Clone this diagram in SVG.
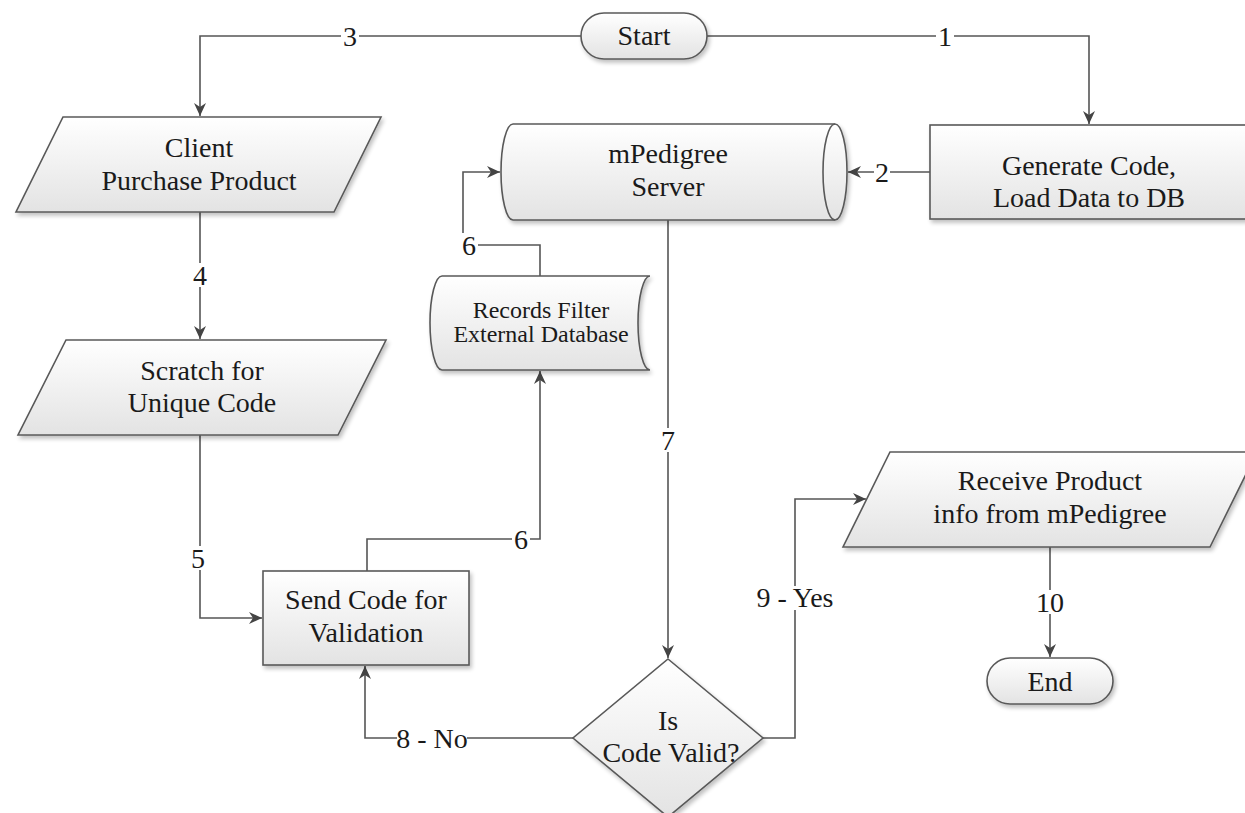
<svg xmlns="http://www.w3.org/2000/svg" width="1245" height="813" viewBox="0 0 1245 813">
<defs>
<linearGradient id="g" x1="0" y1="0" x2="0" y2="1">
<stop offset="0" stop-color="#ffffff"/>
<stop offset="1" stop-color="#e3e3e3"/>
</linearGradient>
<filter id="sh" x="-10%" y="-10%" width="120%" height="130%">
<feGaussianBlur in="SourceAlpha" stdDeviation="2"/>
<feOffset dx="2" dy="3" result="b"/>
<feComponentTransfer><feFuncA type="linear" slope="0.25"/></feComponentTransfer>
<feMerge><feMergeNode/><feMergeNode in="SourceGraphic"/></feMerge>
</filter>
<marker id="ah" markerWidth="14" markerHeight="12" refX="13" refY="6" orient="auto" markerUnits="userSpaceOnUse">
<path d="M0,0 L13,6 L0,12 L4,6 z" fill="#444"/>
</marker>
</defs>
<style>
.s{fill:url(#g);stroke:#595959;stroke-width:1.6;filter:url(#sh)}
.t{font-family:"Liberation Serif","Times New Roman",serif;font-size:28px;fill:#1a1a1a;text-anchor:middle}
.ts{font-size:24px}
.c{fill:none;stroke:#555;stroke-width:1.6}
.bg{fill:#fff}
.l{font-family:"Liberation Serif","Times New Roman",serif;font-size:28px;fill:#1a1a1a;text-anchor:middle}
</style>
<rect width="1245" height="813" fill="#fff"/>
<g id="connectors">
<path class="c" d="M581,36 H200 V116" marker-end="url(#ah)"/>
<path class="c" d="M707,36 H1089 V124" marker-end="url(#ah)"/>
<path class="c" d="M930,172 H848" marker-end="url(#ah)"/>
<path class="c" d="M200,212 V339" marker-end="url(#ah)"/>
<path class="c" d="M200,435 V618 H262" marker-end="url(#ah)"/>
<path class="c" d="M367,571 V539 H540 V371" marker-end="url(#ah)"/>
<path class="c" d="M540,276 V245 H463 V172 H500" marker-end="url(#ah)"/>
<path class="c" d="M668,220 V658" marker-end="url(#ah)"/>
<path class="c" d="M573,738 H365 V666" marker-end="url(#ah)"/>
<path class="c" d="M763,738 H795 V499 H866" marker-end="url(#ah)"/>
<path class="c" d="M1050,547 V657" marker-end="url(#ah)"/>
<rect class="bg" x="341" y="24" width="18" height="24"/>
<rect class="bg" x="936" y="24" width="18" height="24"/>
<rect class="bg" x="874" y="160" width="16" height="24"/>
<rect class="bg" x="191" y="263" width="18" height="24"/>
<rect class="bg" x="189" y="546" width="18" height="24"/>
<rect class="bg" x="512" y="527" width="18" height="24"/>
<rect class="bg" x="460" y="233" width="18" height="24"/>
<rect class="bg" x="659" y="428" width="18" height="24"/>
<rect class="bg" x="397" y="726" width="70" height="24"/>
<rect class="bg" x="754" y="586" width="82" height="24"/>
<rect class="bg" x="1037" y="590" width="26" height="24"/>
<text class="l" x="350" y="46">3</text>
<text class="l" x="945" y="46">1</text>
<text class="l" x="882" y="182">2</text>
<text class="l" x="200" y="285">4</text>
<text class="l" x="198" y="568">5</text>
<text class="l" x="521" y="549">6</text>
<text class="l" x="469" y="255">6</text>
<text class="l" x="668" y="450">7</text>
<text class="l" x="432" y="748">8 - No</text>
<text class="l" x="795" y="607">9 - Yes</text>
<text class="l" x="1050" y="612">10</text>
</g>
<g id="start">
<rect class="s" x="581" y="13" width="126" height="46" rx="23"/>
<text class="t" x="644" y="45">Start</text>
</g>
<g id="client">
<polygon class="s" points="63,117 381,117 334,212 16,212"/>
<text class="t" x="199" y="157">Client</text>
<text class="t" x="199" y="190">Purchase Product</text>
</g>
<g id="scratch">
<polygon class="s" points="66,340 386,340 338,435 18,435"/>
<text class="t" x="202" y="380">Scratch for</text>
<text class="t" x="202" y="412">Unique Code</text>
</g>
<g id="generate">
<rect class="s" x="930" y="125" width="318" height="94"/>
<text class="t" x="1089" y="175">Generate Code,</text>
<text class="t" x="1089" y="207">Load Data to DB</text>
</g>
<g id="server">
<path class="s" d="M513,124 H835 A12,48 0 0 1 835,220 H513 A12,48 0 0 1 513,124 Z"/>
<path fill="none" stroke="#595959" stroke-width="1.6" d="M835,124 A12,48 0 0 0 835,220"/>
<text class="t" x="668" y="163">mPedigree</text>
<text class="t" x="668" y="196">Server</text>
</g>
<g id="records">
<path class="s" d="M442,276 H650 A12,47 0 0 0 650,370 H442 A12,47 0 0 1 442,276 Z"/>
<text class="t ts" x="541" y="318">Records Filter</text>
<text class="t ts" x="541" y="342">External Database</text>
</g>
<g id="send">
<rect class="s" x="263" y="571" width="206" height="94"/>
<text class="t" x="366" y="609">Send Code for</text>
<text class="t" x="366" y="642">Validation</text>
</g>
<g id="decision">
<polygon class="s" points="668,659 763,738 668,817 573,738"/>
<text class="t" x="668" y="730">Is</text>
<text class="t" x="671" y="762">Code Valid?</text>
</g>
<g id="receive">
<polygon class="s" points="890,452 1257,452 1210,547 843,547"/>
<text class="t" x="1050" y="490">Receive Product</text>
<text class="t" x="1050" y="523">info from mPedigree</text>
</g>
<g id="end">
<rect class="s" x="987" y="658" width="126" height="46" rx="23"/>
<text class="t" x="1050" y="691">End</text>
</g>
</svg>
